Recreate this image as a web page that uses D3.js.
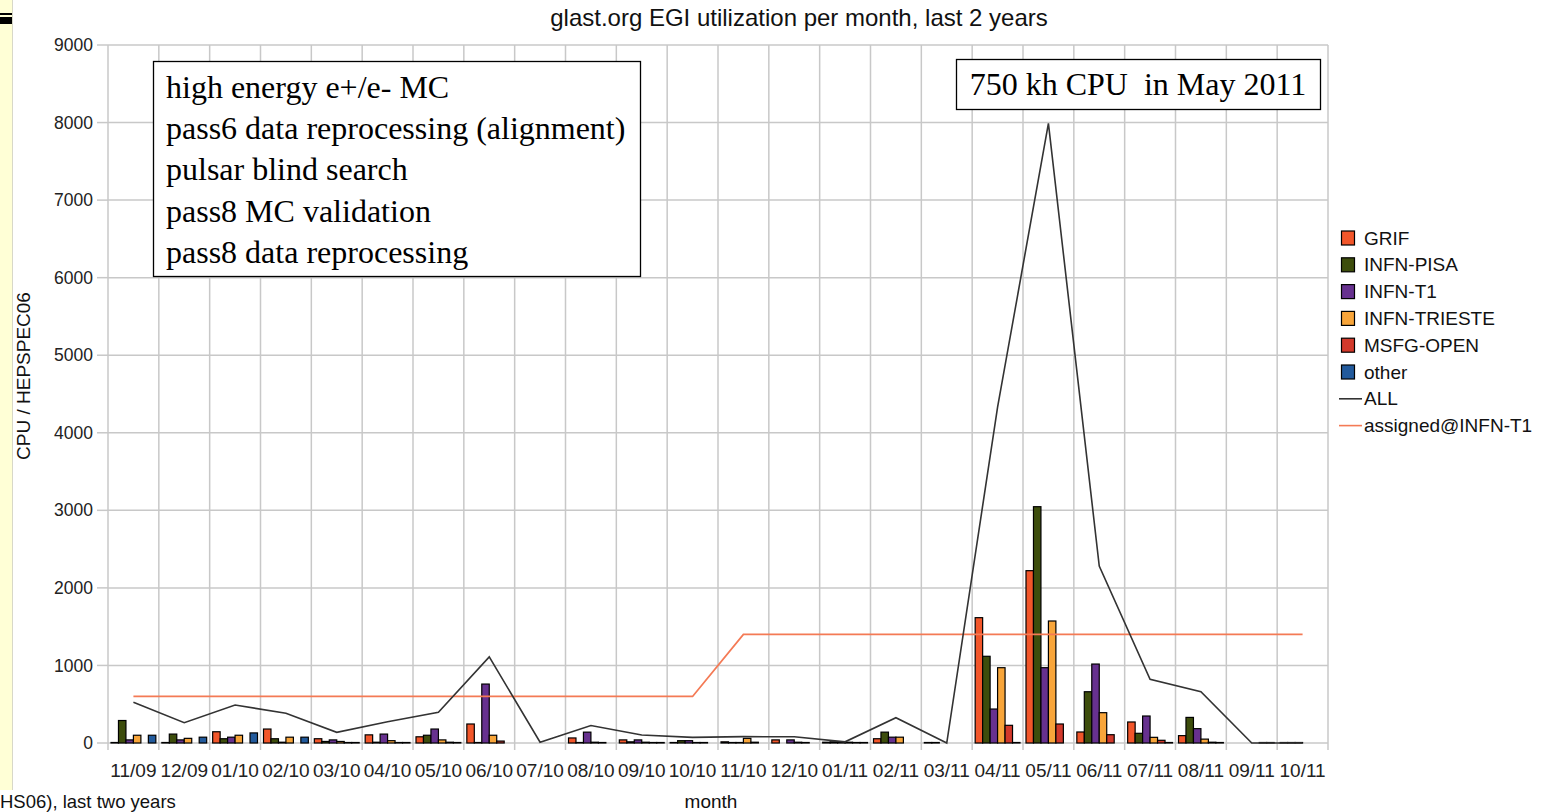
<!DOCTYPE html>
<html><head><meta charset="utf-8">
<script src="https://cdn.jsdelivr.net/npm/d3@7"></script>
<style>
body{margin:0;background:#fff;}
svg{display:block;font-family:"Liberation Sans",Arial,sans-serif;}
</style></head>
<body>
<svg id="c" width="1554" height="812"></svg>
<script>
const months = ["11/09","12/09","01/10","02/10","03/10","04/10","05/10","06/10","07/10","08/10","09/10","10/10","11/10","12/10","01/11","02/11","03/11","04/11","05/11","06/11","07/11","08/11","09/11","10/11"];
const seriesNames = ["GRIF","INFN-PISA","INFN-T1","INFN-TRIESTE","MSFG-OPEN","other"];
const seriesColors = ["#f2562a","#3d4d0c","#67318f","#f8a53a","#d2392b","#225a9c"];
const GRIF     = [0,0,145,180,55,105,80,245,null,65,40,0,15,40,10,55,0,1616,2222,142,271,95,null,0];
const PISA     = [290,115,55,55,20,10,100,0,null,0,15,30,0,null,15,140,0,1118,3047,661,125,330,null,0];
const T1       = [40,40,75,10,40,115,180,760,null,140,40,30,0,40,15,75,null,438,971,1018,348,185,null,0];
const TRIESTE  = [100,60,100,75,20,30,40,100,null,10,10,0,60,10,10,75,null,971,1573,391,73,50,null,null];
const MSFG     = [null,null,null,null,0,0,10,25,null,0,0,0,10,0,0,null,null,228,245,107,35,10,0,null];
const OTHER    = [100,75,130,75,0,0,0,null,null,null,0,null,null,null,0,null,null,0,null,null,5,0,0,null];
const ALL      = [525,262,490,383,138,275,395,1110,10,225,103,73,82,80,15,326,0,4330,7990,2282,821,662,0,0];
const ASSIGNED = [600,600,600,600,600,600,600,600,600,600,600,600,1400,1400,1400,1400,1400,1400,1400,1400,1400,1400,1400,1400];
const yTicks = [0,1000,2000,3000,4000,5000,6000,7000,8000,9000];
const notes = ["high energy e+/e- MC","pass6 data reprocessing (alignment)","pulsar blind search","pass8 MC validation","pass8 data reprocessing"];

const series = [GRIF,PISA,T1,TRIESTE,MSFG,OTHER];
const svg = d3.select("#c");

// left strip artifact
svg.append("rect").attr("x",0).attr("y",0).attr("width",12).attr("height",790).attr("fill","#ffffd6");
svg.append("line").attr("x1",12.5).attr("x2",12.5).attr("y1",0).attr("y2",790).attr("stroke","#d8d8c8");
svg.append("rect").attr("x",0).attr("y",13).attr("width",12).attr("height",2).attr("fill","#000");
svg.append("rect").attr("x",0).attr("y",17).attr("width",12).attr("height",7).attr("fill","#000");

const L=108, R=1328, T=45, B=743;
const x = d3.scaleBand().domain(months).range([L,R]).padding(0);
const xs = d3.scaleBand().domain(seriesNames).range([3, x.bandwidth()-3]).padding(0);
const y = d3.scaleLinear().domain([0,9000]).range([B,T]);

// grid
const g = svg.append("g");
g.selectAll(".hg").data(yTicks).join("line")
 .attr("x1",L).attr("x2",R).attr("y1",d=>y(d)).attr("y2",d=>y(d))
 .attr("stroke","#c8c8c8").attr("stroke-width",1.5);
const bounds = months.map(m=>x(m)).concat([R]);
g.selectAll(".vg").data(bounds).join("line")
 .attr("x1",d=>d).attr("x2",d=>d).attr("y1",T).attr("y2",B+7)
 .attr("stroke","#c8c8c8").attr("stroke-width",1.5);
// y axis ticks
g.selectAll(".yt").data(yTicks).join("line")
 .attr("x1",97).attr("x2",L).attr("y1",d=>y(d)).attr("y2",d=>y(d))
 .attr("stroke","#c8c8c8").attr("stroke-width",1.5);
svg.append("g").selectAll("text").data(yTicks).join("text")
 .attr("x",93).attr("y",d=>y(d)).attr("dy","0.35em").attr("text-anchor","end")
 .attr("font-size",17.5).attr("fill","#222").text(d=>d);
// x labels
svg.append("g").selectAll("text").data(months).join("text")
 .attr("x",d=>x(d)+x.bandwidth()/2).attr("y",777).attr("text-anchor","middle")
 .attr("font-size",19).attr("fill","#222").text(d=>d);

// bars
series.forEach((arr,si)=>{
  svg.append("g").selectAll("rect").data(arr.map((v,i)=>({v,m:months[i]})).filter(d=>d.v!==null)).join("rect")
   .attr("x",d=>x(d.m)+xs(seriesNames[si]))
   .attr("width",xs.bandwidth())
   .attr("y",d=>Math.min(y(d.v),B-0.5))
   .attr("height",d=>Math.max(B-y(d.v),0.5))
   .attr("fill",seriesColors[si]).attr("stroke","#000").attr("stroke-width",1.2);
});

// lines
const line = d3.line().x((d,i)=>x(months[i])+x.bandwidth()/2).y(d=>y(d));
svg.append("path").attr("d",line(ASSIGNED)).attr("fill","none").attr("stroke","#f47a55").attr("stroke-width",1.8);
svg.append("path").attr("d",line(ALL)).attr("fill","none").attr("stroke","#333").attr("stroke-width",1.6);

// title
svg.append("text").attr("x",799).attr("y",26).attr("text-anchor","middle").attr("font-size",24).attr("fill","#111")
 .text("glast.org EGI utilization per month, last 2 years");
// y label
svg.append("text").attr("transform","translate(30,376) rotate(-90)").attr("text-anchor","middle")
 .attr("font-size",19).attr("fill","#111").text("CPU / HEPSPEC06");
// x label
svg.append("text").attr("x",711).attr("y",808).attr("text-anchor","middle").attr("font-size",19).attr("fill","#111").text("month");
svg.append("text").attr("x",0).attr("y",808).attr("font-size",18.5).attr("fill","#111").text("HS06), last two years");

// annotation boxes
svg.append("rect").attr("x",153.5).attr("y",61.5).attr("width",487).attr("height",215).attr("fill","#fff").attr("stroke","#000").attr("stroke-width",1.3);
svg.append("g").selectAll("text").data(notes).join("text")
 .attr("x",166).attr("y",(d,i)=>98+i*41.2).attr("font-family","'Liberation Serif','Times New Roman',serif")
 .attr("font-size",32).attr("fill","#000").text(d=>d);
svg.append("rect").attr("x",956.5).attr("y",59.5).attr("width",364).attr("height",50).attr("fill","#fff").attr("stroke","#000").attr("stroke-width",1.3);
svg.append("text").attr("x",1138).attr("y",95).attr("text-anchor","middle").attr("font-family","'Liberation Serif','Times New Roman',serif")
 .attr("font-size",32).attr("fill","#000").attr("xml:space","preserve").style("white-space","pre").text("750 kh CPU  in May 2011");

// legend
const lg = svg.append("g");
const rowY = i=>238+i*26.8;
seriesNames.forEach((n,i)=>{
  lg.append("rect").attr("x",1341.5).attr("y",rowY(i)-7).attr("width",13).attr("height",14).attr("fill",seriesColors[i]).attr("stroke","#000").attr("stroke-width",1.2);
  lg.append("text").attr("x",1364).attr("y",rowY(i)).attr("dy","0.35em").attr("font-size",19).attr("fill","#111").text(n);
});
[["ALL","#333"],["assigned@INFN-T1","#f47a55"]].forEach((d,j)=>{
  const i=6+j;
  lg.append("line").attr("x1",1339).attr("x2",1362).attr("y1",rowY(i)).attr("y2",rowY(i)).attr("stroke",d[1]).attr("stroke-width",1.6);
  lg.append("text").attr("x",1364).attr("y",rowY(i)).attr("dy","0.35em").attr("font-size",19).attr("fill","#111").text(d[0]);
});
</script>
</body></html>
